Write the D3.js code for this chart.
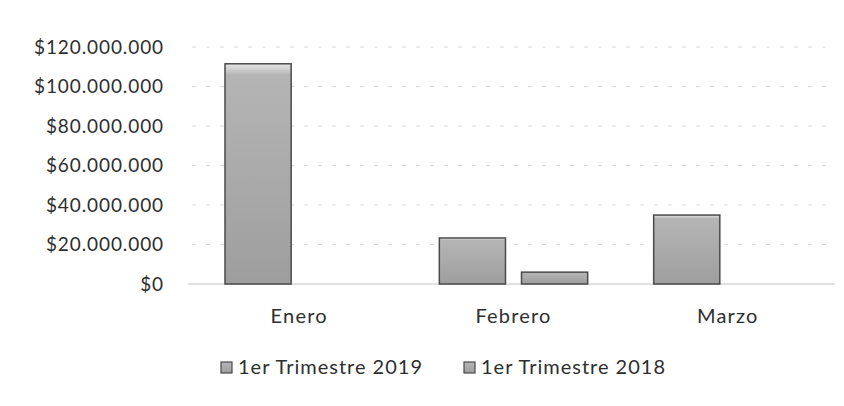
<!DOCTYPE html>
<html>
<head>
<meta charset="utf-8">
<script src="https://cdn.jsdelivr.net/npm/d3@7"></script>
<style>
  body { margin: 0; background: #fff; }
  svg { font-family: Lato, "Open Sans", sans-serif; }
</style>
</head>
<body>
<svg id="chart" width="844" height="406"></svg>
<script>
// Months of the quarter
const months = ['Enero', 'Febrero', 'Marzo'];
// Series names
const seriesNames = ['1er Trimestre 2019', '1er Trimestre 2018'];
// Values (pesos)
const values2019 = [111500000, 23300000, 34900000];
const values2018 = [0, 6000000, 0];
// Y axis ticks
const yTicks = [0, 20000000, 40000000, 60000000, 80000000, 100000000, 120000000];

const svg = d3.select('#chart');

// Number format like "$120.000.000"
const locale = d3.formatLocale({decimal: ',', thousands: '.', grouping: [3], currency: ['$', '']});
const money = locale.format('$,.0f');

// Scales
const x = d3.scaleBand().domain(months).range([192, 835]);
const x1 = d3.scaleBand().domain(seriesNames).range([33, x.bandwidth() - 33]).paddingInner(0.195);
const y = d3.scaleLinear().domain([0, 120000000]).range([284, 47]);

// Bar shading
const defs = svg.append('defs');
const grad = defs.append('linearGradient').attr('id', 'barFill')
    .attr('x1', 0).attr('y1', 0).attr('x2', 0).attr('y2', 1);
grad.append('stop').attr('offset', '0%').attr('stop-color', '#e6e6e6');
grad.append('stop').attr('offset', '5%').attr('stop-color', '#b5b5b5');
grad.append('stop').attr('offset', '100%').attr('stop-color', '#9e9e9e');

// Gridlines (faint, dashed like the scan)
svg.append('g')
    .selectAll('line')
    .data(yTicks.slice(1))
    .join('line')
    .attr('x1', 192).attr('x2', 835)
    .attr('y1', d => y(d)).attr('y2', d => y(d))
    .attr('stroke', '#d8d8d8')
    .attr('stroke-dasharray', '4,10');

// Y axis labels
const yAxis = svg.append('g')
    .attr('transform', 'translate(164,0)')
    .call(d3.axisLeft(y).tickValues(yTicks).tickFormat(money).tickSize(0).tickPadding(0));
yAxis.select('.domain').remove();
yAxis.selectAll('text')
    .attr('font-family', 'Lato, "Open Sans", sans-serif')
    .attr('font-size', 19)
    .attr('letter-spacing', 0.9)
    .attr('fill', '#2e2e2e');

// Zero line
svg.append('line')
    .attr('x1', 188).attr('x2', 835)
    .attr('y1', y(0)).attr('y2', y(0))
    .attr('stroke', '#c4c4c4').attr('stroke-width', 1);

// Bars
const table = months.map((m, i) => ({month: m, vals: [values2019[i], values2018[i]]}));
const groups = svg.append('g')
    .selectAll('g')
    .data(table)
    .join('g')
    .attr('transform', d => `translate(${x(d.month)},0)`);

groups.selectAll('rect')
    .data(d => d.vals.map((v, j) => ({name: seriesNames[j], value: v})).filter(d => d.value > 0))
    .join('rect')
    .attr('x', d => x1(d.name))
    .attr('width', x1.bandwidth())
    .attr('y', d => y(d.value))
    .attr('height', d => y(0) - y(d.value))
    .attr('fill', 'url(#barFill)')
    .attr('stroke', '#4a4a4a')
    .attr('stroke-width', 1.5);

// Category labels
svg.append('g')
    .selectAll('text')
    .data(months)
    .join('text')
    .attr('x', d => x(d) + x.bandwidth() / 2)
    .attr('y', 323)
    .attr('text-anchor', 'middle')
    .attr('font-size', 20)
    .attr('letter-spacing', 1.2)
    .attr('fill', '#2e2e2e')
    .text(d => d);

// Legend
const legendX = [221, 464];
const legend = svg.append('g')
    .selectAll('g')
    .data(seriesNames)
    .join('g')
    .attr('transform', (d, i) => `translate(${legendX[i]},362)`);
legend.append('rect')
    .attr('width', 11).attr('height', 11)
    .attr('fill', 'url(#barFill)')
    .attr('stroke', '#4a4a4a').attr('stroke-width', 1.2);
legend.append('text')
    .attr('x', 17).attr('y', 12)
    .attr('font-size', 20)
    .attr('letter-spacing', 1)
    .attr('fill', '#2e2e2e')
    .text(d => d);
</script>
</body>
</html>
